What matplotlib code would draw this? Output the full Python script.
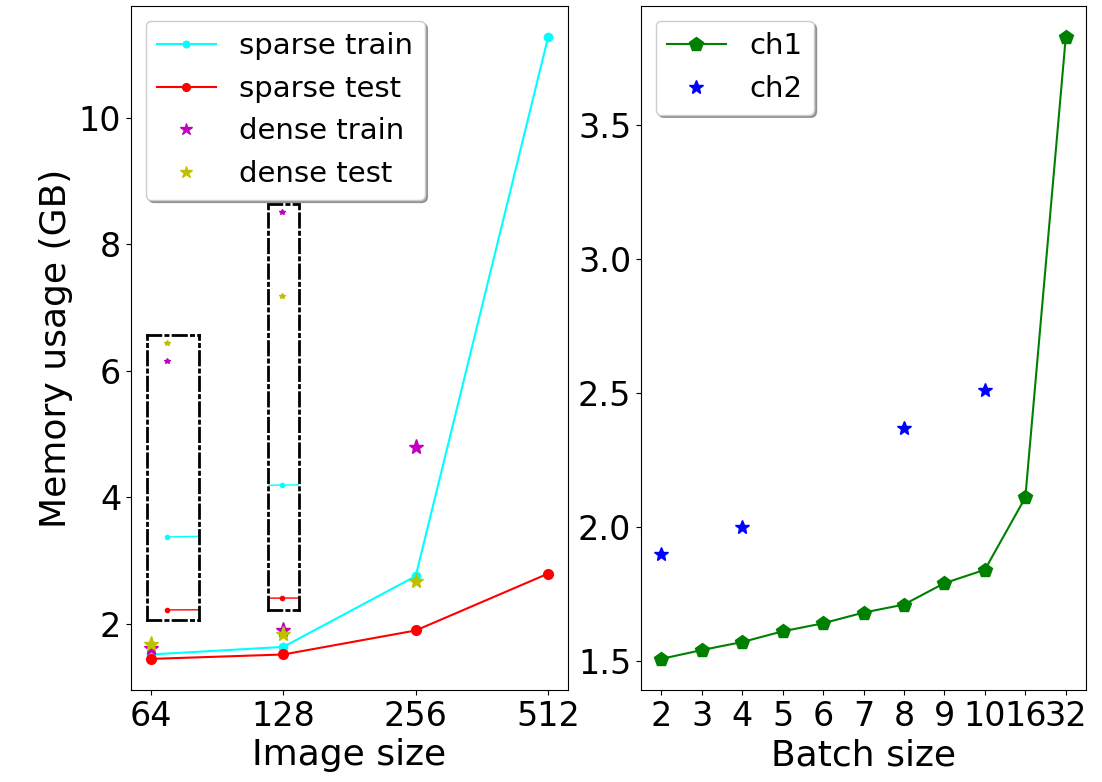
import numpy as np
import matplotlib
matplotlib.use('Agg')
import matplotlib.pyplot as plt

plt.rcParams['font.size'] = 24
plt.rcParams['axes.labelsize'] = 26

# left panel: memory vs image size
image_sizes = ['64', '128', '256', '512']
sparse_train = [1.51, 1.63, 2.75, 11.28]
sparse_test = [1.44, 1.51, 1.89, 2.79]
dense_train = [1.62, 1.89, 4.80]
dense_test = [1.67, 1.83, 2.68]

# values shown inside the dash-dot boxes (third value is a guess, off-box)
inset_sparse_train = [3.35, 4.18, 4.18]
inset_sparse_test = [2.19, 2.38, 2.38]
inset_dense_train = [6.15, 8.52]
inset_dense_test = [6.44, 7.18]

# right panel: memory vs batch size
batch_sizes = ['2', '3', '4', '5', '6', '7', '8', '9', '10', '16', '32']
ch1 = [1.507, 1.54, 1.57, 1.61, 1.64, 1.68, 1.71, 1.79, 1.84, 2.11, 3.83]
ch2_idx = [0, 2, 6, 8]
ch2 = [1.90, 2.00, 2.37, 2.51]

W, H = 1102, 782
fig = plt.figure(figsize=(W / 100, H / 100), dpi=100)


def px_axes(left, right, top, bottom):
    return fig.add_axes([left / W, 1 - bottom / H, (right - left) / W, (bottom - top) / H])


ax1 = px_axes(131, 568, 6, 690)
x = np.arange(len(image_sizes))
ax1.plot(x, sparse_train, color='cyan', marker='o', ms=6, label='sparse train')
ax1.plot(x, sparse_test, color='r', marker='o', ms=7, label='sparse test')
ax1.plot(x[:3], dense_train, 'm*', ms=11, label='dense train')
ax1.plot(x[:3], dense_test, 'y*', ms=11, label='dense test')
ax1.set_xticks(x)
ax1.set_xticklabels(image_sizes)
ax1.set_xlabel('Image size')
ax1.set_ylabel('Memory usage (GB)')
ax1.legend(loc='upper left', shadow=True, fontsize=21, markerscale=0.8)

# dash-dot boxes
boxes = [((147, 199, 335, 620), 0, 0.385, (2.03, 6.56)),
         ((268, 299, 204, 610), 1, 0.45, (2.19, 8.65))]
for (l, r, t, b), i, frac, ylim in boxes:
    ins = px_axes(l, r, t, b)
    ins.patch.set_alpha(0)
    xi = np.arange(len(inset_sparse_train))
    ins.plot(xi, inset_sparse_train, color='cyan', marker='o', ms=3, lw=1)
    ins.plot(xi, inset_sparse_test, color='r', marker='o', ms=3, lw=1)
    ins.plot(xi[:2], inset_dense_train, 'm*', ms=4)
    ins.plot(xi[:2], inset_dense_test, 'y*', ms=4)
    d = 0.02
    ins.set_xlim(i - frac * d, i + (1 - frac) * d)
    ins.set_ylim(*ylim)
    ins.set_xticks([])
    ins.set_yticks([])
    for s in ins.spines.values():
        s.set_linestyle((0, (4.8, 1.8, 0.8, 1.8)))
        s.set_linewidth(2)
        s.set_color('k')

ax2 = px_axes(641, 1086, 6, 690)
xb = np.arange(len(batch_sizes))
ax2.plot(xb, ch1, color='g', marker='p', ms=10, label='ch1')
ax2.plot(ch2_idx, ch2, 'b*', ms=10, label='ch2')
ax2.set_xticks(xb)
ax2.set_xticklabels(batch_sizes)
ax2.set_yticks([1.5, 2.0, 2.5, 3.0, 3.5])
ax2.set_xlabel('Batch size')
ax2.legend(loc='upper left', shadow=True, fontsize=21)

plt.savefig('out.png', dpi=100)
